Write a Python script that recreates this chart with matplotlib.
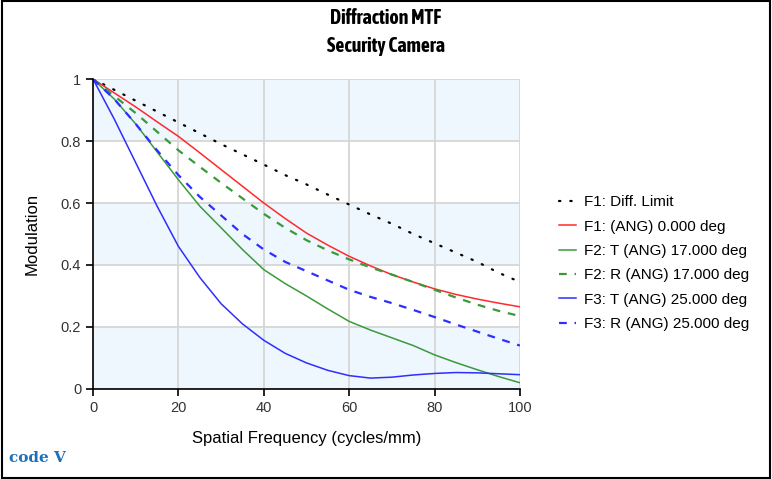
#!/usr/bin/env python3
import numpy as np
import matplotlib
matplotlib.use('Agg')
import matplotlib.pyplot as plt
import matplotlib.patches as mpatches
from matplotlib import font_manager

# values, every 5 cycles/mm
freq = [0, 5, 10, 15, 20, 25, 30, 35, 40, 45, 50, 55, 60, 65, 70, 75, 80, 85, 90, 95, 100]

diff_limit = [1.0, 0.965, 0.93, 0.895, 0.86, 0.825, 0.79, 0.757, 0.724, 0.69, 0.66,
              0.627, 0.595, 0.563, 0.533, 0.50, 0.47, 0.44, 0.41, 0.375, 0.345]
f1_ang0 = [1.0, 0.955, 0.91, 0.862, 0.815, 0.762, 0.708, 0.654, 0.60, 0.55, 0.503,
           0.464, 0.428, 0.397, 0.369, 0.345, 0.323, 0.305, 0.29, 0.277, 0.265]
f2_t17 = [1.0, 0.935, 0.855, 0.765, 0.675, 0.59, 0.52, 0.45, 0.385, 0.34, 0.30,
          0.258, 0.218, 0.19, 0.165, 0.14, 0.11, 0.085, 0.062, 0.04, 0.02]
f2_r17 = [1.0, 0.945, 0.89, 0.83, 0.77, 0.717, 0.665, 0.615, 0.565, 0.52, 0.48,
          0.447, 0.418, 0.392, 0.369, 0.345, 0.32, 0.295, 0.272, 0.252, 0.235]
f3_t25 = [1.0, 0.87, 0.73, 0.59, 0.46, 0.36, 0.275, 0.21, 0.157, 0.115, 0.084,
          0.06, 0.043, 0.035, 0.038, 0.045, 0.05, 0.053, 0.052, 0.049, 0.046]
f3_r25 = [1.0, 0.935, 0.855, 0.77, 0.69, 0.62, 0.56, 0.50, 0.45, 0.41, 0.38,
          0.35, 0.32, 0.297, 0.277, 0.255, 0.232, 0.208, 0.185, 0.162, 0.14]

labels = ['F1: Diff. Limit', 'F1: (ANG) 0.000 deg', 'F2: T (ANG) 17.000 deg',
          'F2: R (ANG) 17.000 deg', 'F3: T (ANG) 25.000 deg', 'F3: R (ANG) 25.000 deg']


def weight_num(w):
    if isinstance(w, str):
        return font_manager.weight_dict.get(w, 400)
    return w


# narrow bold face for the title if one is installed
title_font, title_size = ['Liberation Sans'], 13.5
narrow = [f for f in font_manager.fontManager.ttflist
          if ('Narrow' in f.name or 'Condensed' in f.name) and weight_num(f.weight) >= 600
          and f.style == 'normal']
if narrow:
    title_font, title_size = [narrow[0].name, 'Liberation Sans'], 14.3

plt.rcParams.update({
    "font.family": ["Liberation Sans", "DejaVu Sans"],
    "font.size": 11,
})


def main():
    fig = plt.figure(figsize=(7.72, 4.79), dpi=100)
    ax = fig.add_axes([0.1205, 0.188, 0.553, 0.647])

    # alternating horizontal bands
    for lo in [0.0, 0.4, 0.8]:
        ax.axhspan(lo, lo + 0.2, color='#eef6fe', lw=0, zorder=0)

    ax.plot(freq, diff_limit, color='black', lw=1.6, linestyle=(0, (0.6, 4.5)),
            dash_capstyle='round', label=labels[0], zorder=3)
    ax.plot(freq, f1_ang0, color='#ff2a2a', lw=1.1, label=labels[1], zorder=3)
    ax.plot(freq, f2_t17, color='#3a9a3a', lw=1.1, label=labels[2], zorder=3)
    ax.plot(freq, f2_r17, color='#3a9a3a', lw=1.6, linestyle=(0, (3.5, 3.5)), label=labels[3], zorder=3)
    ax.plot(freq, f3_t25, color='#2e2eff', lw=1.1, label=labels[4], zorder=3)
    ax.plot(freq, f3_r25, color='#2e2eff', lw=1.6, linestyle=(0, (3.5, 3.5)), label=labels[5], zorder=3)

    ax.set_xlim(0, 100)
    ax.set_ylim(0, 1)
    ax.set_xticks([0, 20, 40, 60, 80, 100])
    ax.set_yticks([0, 0.2, 0.4, 0.6, 0.8, 1.0])
    ax.set_yticklabels(['0', '0.2', '0.4', '0.6', '0.8', '1'])
    ax.grid(True, color='#d6d6d6', lw=1.3, zorder=1)
    ax.set_axisbelow(True)
    for s in ['top', 'right']:
        ax.spines[s].set_visible(False)
    for s in ['left', 'bottom']:
        ax.spines[s].set_linewidth(1.2)
        ax.spines[s].set_zorder(4)
    ax.tick_params(direction='out', length=5, width=1.2, colors='black',
                   labelcolor='#333333', labelsize=10.5)

    ax.set_xlabel('Spatial Frequency (cycles/mm)', fontsize=12, labelpad=12)
    ax.set_ylabel('Modulation', fontsize=12, labelpad=15)

    ax.legend(loc='center left', bbox_to_anchor=(1.06, 0.406), frameon=False,
              handlelength=1.1, handletextpad=0.5, labelspacing=0.68, fontsize=11)

    fig.text(0.5, 0.962, 'Diffraction MTF', ha='center', va='center',
             fontsize=title_size, fontweight='bold', family=title_font)
    fig.text(0.5, 0.903, 'Security Camera', ha='center', va='center',
             fontsize=title_size, fontweight='bold', family=title_font)

    # logo text bottom left
    fig.text(0.012, 0.03, 'code V', color='#1f6fb8', fontsize=11, fontweight='bold',
             family='DejaVu Serif', va='bottom')

    # outer frame
    fig.patches.append(mpatches.Rectangle((0.002, 0.003), 0.995, 0.994, transform=fig.transFigure,
                                          fill=False, edgecolor='black', lw=1.5))

    fig.savefig('out.png', dpi=100)
    plt.close(fig)


if __name__ == '__main__':
    main()
